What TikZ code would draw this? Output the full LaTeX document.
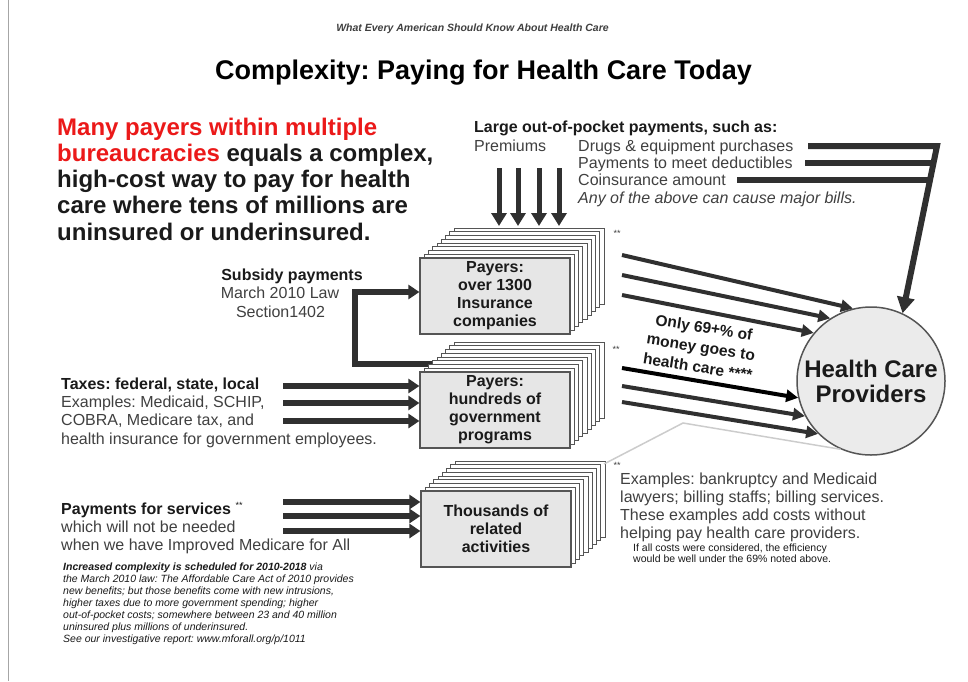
\documentclass[tikz,border=0pt]{standalone}
\usepackage{fontspec}
\setmainfont{Liberation Sans}
\frenchspacing
\usetikzlibrary{arrows.meta,calc}
\definecolor{txt}{HTML}{404040}
\definecolor{dark}{HTML}{1A1A1A}
\definecolor{arr}{HTML}{303030}
\definecolor{redt}{RGB}{235,25,25}
\definecolor{frontfill}{HTML}{E6E6E6}
\definecolor{circfill}{HTML}{EBEBEB}
\definecolor{edge}{HTML}{555555}
\definecolor{callout}{HTML}{CCCCCC}
\newcommand{\stackbox}[4]{%
  \foreach \i in {8,7,...,1} {
    \draw[sheet] ({#2-75+4.25*\i},{#3-38-3.75*\i}) rectangle ++(150,76);
  }
  \node[frontbox] (#1) at (#2,#3) {#4};
}
\begin{document}
\begin{tikzpicture}[x=1pt,y=-1pt,
  lbl/.style={anchor=base west,inner sep=0pt,text=txt,font=\fontsize{16}{18}\selectfont},
  blbl/.style={anchor=base west,inner sep=0pt,text=dark,font=\bfseries\fontsize{16}{18}\selectfont},
  redlbl/.style={anchor=base west,inner sep=0pt,text=dark,font=\bfseries\fontsize{24}{26}\selectfont},
  foot/.style={anchor=base west,inner sep=0pt,text=dark,font=\itshape\fontsize{10.5}{12}\selectfont},
  small/.style={anchor=base west,inner sep=0pt,text=dark,font=\fontsize{10.5}{11}\selectfont},
  stars/.style={inner sep=0pt,text=txt,font=\fontsize{9}{9}\selectfont},
  sheet/.style={draw=edge,line width=1pt,fill=white},
  frontbox/.style={draw=edge,line width=1.2pt,fill=frontfill,minimum width=150pt,minimum height=76pt,
    inner sep=0pt,align=center,text=dark,font=\bfseries\fontsize{16}{18}\selectfont},
  fatarrow/.style={draw=arr,line width=6pt,-{Triangle[length=11pt,width=14pt]}},
  premarrow/.style={draw=arr,line width=5pt,-{Triangle[length=13pt,width=15pt]}},
  midarrow/.style={draw=arr,line width=4pt,-{Triangle[length=12pt,width=12pt]}},
  bigarrow/.style={draw=arr,line width=6pt,line join=miter,-{Triangle[length=16pt,width=17pt]}},
  bar/.style={draw=arr,line width=6pt},
]
\useasboundingbox (0,0) rectangle (968,681);
\fill[white] (0,0) rectangle (968,681);
\draw[draw=gray!70,line width=1pt] (8,0) -- (8,681);

% header and title
\node[anchor=base,inner sep=0pt,text=txt,font=\bfseries\itshape\fontsize{10.5}{12}\selectfont] (hdr) at (472.5,31) {What Every American Should Know About Health Care};
\node[anchor=base,inner sep=0pt,text=black,font=\bfseries\fontsize{27}{30}\selectfont] (title) at (483.5,79) {Complexity: Paying for Health Care Today};

% red statement
\node[redlbl] (r1) at (57,135) {\textcolor{redt}{Many payers within multiple}};
\node[redlbl] (r2) at (57,161) {\textcolor{redt}{bureaucracies} equals a complex,};
\node[redlbl] (r3) at (57,187) {high-cost way to pay for health};
\node[redlbl] (r4) at (57,213) {care where tens of millions are};
\node[redlbl] (r5) at (57,240) {uninsured or underinsured.};

% out of pocket
\node[blbl] (oop) at (474,132) {Large out-of-pocket payments, such as:};
\node[lbl] (prem) at (474,151.5) {Premiums};
\node[lbl] (drug) at (578,151.5) {Drugs \& equipment purchases};
\node[lbl] (dedu) at (578,168.5) {Payments to meet deductibles};
\node[lbl] (coin) at (578,185.5) {Coinsurance amount};
\node[lbl,font=\itshape\fontsize{16}{18}\selectfont] (any) at (578,203) {Any of the above can cause major bills.};

% subsidy path (behind stacks)
\coordinate (subS) at (445,364);
\coordinate (subA) at (355,364);
\coordinate (subB) at (355,292);

% stacks
\draw[draw=arr,line width=6pt,line join=miter] (subS) -- (subA) -- (subB) -- (400,292);
\stackbox{ins}{495}{296}{Payers:\\over 1300\\Insurance\\companies}
\stackbox{gov}{495}{410}{Payers:\\hundreds of\\government\\programs}
\stackbox{thou}{496}{529}{Thousands of\\related\\activities}
\draw[fatarrow] (398,292) -- (ins.west |- subB);

\node[stars] (st1) at (617,233) {**};
\node[stars] (st2) at (616,349) {**};
\node[stars] (st3) at (617,465) {**};

% health care providers
\node[circle,draw=edge,line width=1.5pt,fill=circfill,minimum size=148pt,inner sep=0pt,
  align=center,text=dark,font=\bfseries\fontsize{24}{25}\selectfont] (hcp) at (871,381) {Health Care\\Providers};

% callout line
\coordinate (c1) at (604,464);
\coordinate (c2) at (683,423);
\draw[callout,line width=1.5pt] (c1) -- (c2) -- (hcp.246);

% premium arrows
\foreach \x [count=\k] in {499,518,539,559} {
  \coordinate (p\k) at (\x,168);
  \draw[premarrow] (p\k) -- (\x,226);
}

% out-of-pocket bars into diagonal
\coordinate (d0) at (808,146);
\coordinate (d1) at (805,163);
\coordinate (d2) at (737,180);
\draw[bigarrow] (d0) -- (937,146) -- (hcp.65);
\draw[bar] (d1) -- (933.5,163);
\draw[bar] (d2) -- (930,180);

% insurance -> providers
\coordinate (i1) at (622,255);
\coordinate (i2) at (622,275);
\coordinate (i3) at (622,295);
\draw[midarrow] (i1) -- (hcp.104);
\draw[midarrow] (i2) -- (hcp.123);
\draw[midarrow] (i3) -- (hcp.140);

% government -> providers
\coordinate (g1) at (622,368);
\coordinate (g2) at (622,386);
\coordinate (g3) at (622,402);
\draw[midarrow,draw=black] (g1) -- (hcp.193);
\draw[midarrow] (g2) -- (hcp.208);
\draw[midarrow] (g3) -- (hcp.225);

\node[rotate=-9,align=center,inner sep=0pt,text=dark,font=\bfseries\fontsize{15.5}{20}\selectfont] (only) at (701,347) {Only 69+\% of\\money goes to\\health care ****};

% subsidy text
\node[anchor=base,inner sep=0pt,text=dark,font=\bfseries\fontsize{16}{18}\selectfont] (sub1) at (292,280.5) {Subsidy payments};
\node[anchor=base,inner sep=0pt,text=txt,font=\fontsize{16}{18}\selectfont] (sub2) at (280,298.5) {March 2010 Law};
\node[anchor=base,inner sep=0pt,text=txt,font=\fontsize{16}{18}\selectfont] (sub3) at (280.5,317) {Section1402};

% taxes
\node[blbl] (tax1) at (61,389) {Taxes: federal, state, local};
\node[lbl] (tax2) at (61,407) {Examples: Medicaid, SCHIP,};
\node[lbl] (tax3) at (61,425.5) {COBRA, Medicare tax, and};
\node[lbl] (tax4) at (61,444) {health insurance for government employees.};
\coordinate (t1) at (283,386);
\coordinate (t2) at (283,403);
\coordinate (t3) at (283,421);
\draw[fatarrow] (t1) -- (gov.west |- t1);
\draw[fatarrow] (t2) -- (gov.west |- t2);
\draw[fatarrow] (t3) -- (gov.west |- t3);

% payments for services
\node[blbl] (pay1) at (61,514.5) {Payments for services \raisebox{6pt}{\mdseries\fontsize{9}{9}\selectfont **}};
\node[lbl] (pay2) at (61,532) {which will not be needed};
\node[lbl] (pay3) at (61,550) {when we have Improved Medicare for All};
\coordinate (s1) at (283,502);
\coordinate (s2) at (283,516);
\coordinate (s3) at (283,531);
\draw[fatarrow] (s1) -- (thou.west |- s1);
\draw[fatarrow] (s2) -- (thou.west |- s2);
\draw[fatarrow] (s3) -- (thou.west |- s3);

% examples
\node[lbl] (ex1) at (620,484) {Examples: bankruptcy and Medicaid};
\node[lbl] (ex2) at (620,502) {lawyers; billing staffs; billing services.};
\node[lbl] (ex3) at (620,520) {These examples add costs without};
\node[lbl] (ex4) at (620,538) {helping pay health care providers.};
\node[small] (ex5) at (633,551) {If all costs were considered, the efficiency};
\node[small] (ex6) at (633,562) {would be well under the 69\% noted above.};

% footnote
\node[foot] (f1) at (63,570.5) {\textbf{Increased complexity is scheduled for 2010-2018} via};
\node[foot] (f2) at (63,582.5) {the March 2010 law: The Affordable Care Act of 2010 provides};
\node[foot] (f3) at (63,594.5) {new benefits; but those benefits come with new intrusions,};
\node[foot] (f4) at (63,606.5) {higher taxes due to more government spending; higher};
\node[foot] (f5) at (63,618.5) {out-of-pocket costs; somewhere between 23 and 40 million};
\node[foot] (f6) at (63,630.5) {uninsured plus millions of underinsured.};
\node[foot] (f7) at (63,642.5) {See our investigative report: www.mforall.org/p/1011};
\end{tikzpicture}
\end{document}
